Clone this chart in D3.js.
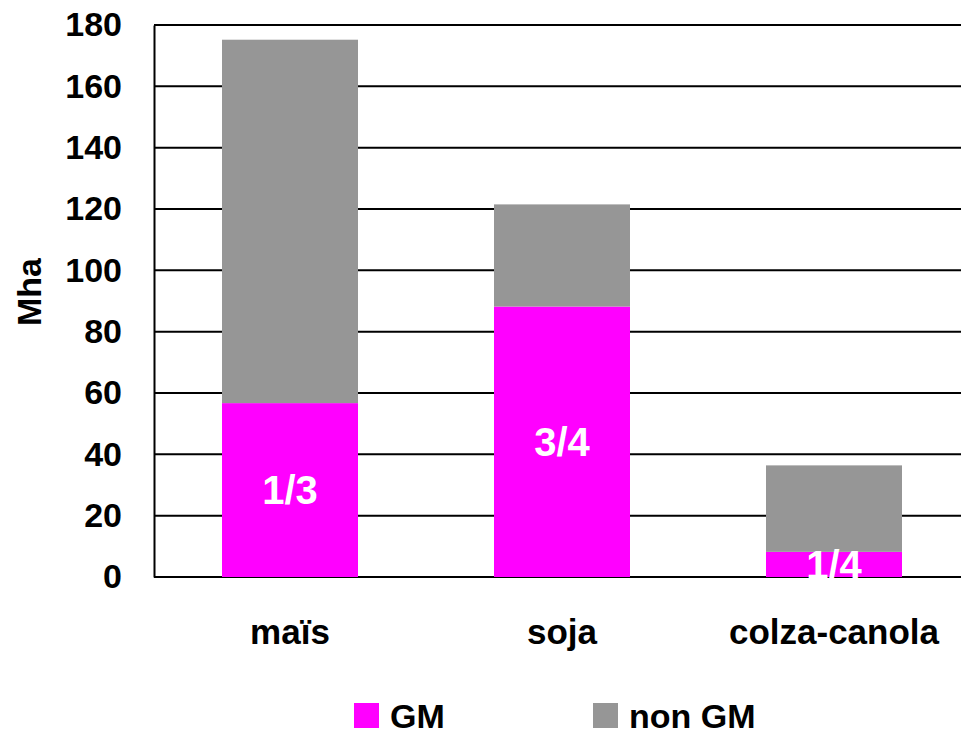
<!DOCTYPE html>
<html>
<head>
<meta charset="utf-8">
<script src="https://cdn.jsdelivr.net/npm/d3@7"></script>
<style>
  body { margin: 0; background: #fff; }
  svg { display: block; font-family: "Liberation Sans", Arial, sans-serif; font-weight: bold; }
</style>
</head>
<body>
<svg width="961" height="731"></svg>
<script>
// data (Mha)
var categories = ["maïs", "soja", "colza-canola"];
var gmValues = [56.7, 88.2, 8.2];
var nonGmValues = [118.5, 33.3, 28.2];
var shareLabels = ["1/3", "3/4", "1/4"];
var seriesNames = ["GM", "non GM"];
var seriesColors = ["#ff00ff", "#969696"];
var yTicks = [0, 20, 40, 60, 80, 100, 120, 140, 160, 180];

var svg = d3.select("svg");

var plotLeft = 154, plotTop = 25, plotBottom = 577;

var x = d3.scaleBand().domain(categories).range([plotLeft, 970]).paddingInner(0.5).paddingOuter(0.25);
var y = d3.scaleLinear().domain([0, 180]).range([plotBottom, plotTop]);

var rows = categories.map(function (c, i) {
    return { cat: c, "GM": gmValues[i], "non GM": nonGmValues[i] };
});
var stacked = d3.stack().keys(seriesNames)(rows);

// gridlines
svg.append("g").selectAll("line").data(yTicks).enter().append("line")
    .attr("x1", plotLeft).attr("x2", 961)
    .attr("y1", function (d) { return y(d); }).attr("y2", function (d) { return y(d); })
    .attr("stroke", "#000").attr("stroke-width", 2);

// bars
svg.append("g").selectAll("g").data(stacked).enter().append("g")
    .attr("fill", function (d, i) { return seriesColors[i]; })
    .selectAll("rect").data(function (d) { return d; }).enter().append("rect")
    .attr("x", function (d) { return x(d.data.cat); })
    .attr("width", x.bandwidth())
    .attr("y", function (d) { return y(d[1]); })
    .attr("height", function (d) { return y(d[0]) - y(d[1]); });

// y axis
var yAxis = svg.append("g").attr("transform", "translate(" + plotLeft + ",0)")
    .call(d3.axisLeft(y).tickValues(yTicks).tickSize(0).tickPadding(32));
yAxis.select(".domain").attr("stroke", "#000").attr("stroke-width", 2);
yAxis.selectAll("text").attr("font-size", 34).attr("font-family", null).attr("fill", "#000");

// x axis labels
var xAxis = svg.append("g").attr("transform", "translate(0," + plotBottom + ")")
    .call(d3.axisBottom(x).tickSize(0).tickPadding(42));
xAxis.select(".domain").remove();
xAxis.selectAll("text").attr("font-size", 35).attr("font-family", null).attr("fill", "#000");

// y title
svg.append("text")
    .attr("transform", "translate(41,292) rotate(-90)")
    .attr("text-anchor", "middle")
    .attr("font-size", 34)
    .text("Mha");

// share labels inside GM segment
svg.append("g").selectAll("text").data(stacked[0]).enter().append("text")
    .attr("x", function (d) { return x(d.data.cat) + x.bandwidth() / 2; })
    .attr("y", function (d) { return (y(d[0]) + y(d[1])) / 2; })
    .attr("dy", "0.36em")
    .attr("text-anchor", "middle")
    .attr("font-size", 40)
    .attr("fill", "#fff")
    .text(function (d, i) { return shareLabels[i]; });

// legend
var legendX = [354, 593];
var legend = svg.append("g").selectAll("g").data(seriesNames).enter().append("g")
    .attr("transform", function (d, i) { return "translate(" + legendX[i] + ",703)"; });
legend.append("rect").attr("width", 25).attr("height", 25)
    .attr("fill", function (d, i) { return seriesColors[i]; });
legend.append("text").attr("x", 36).attr("y", 25)
    .attr("font-size", 34)
    .text(function (d) { return d; });
</script>
</body>
</html>
